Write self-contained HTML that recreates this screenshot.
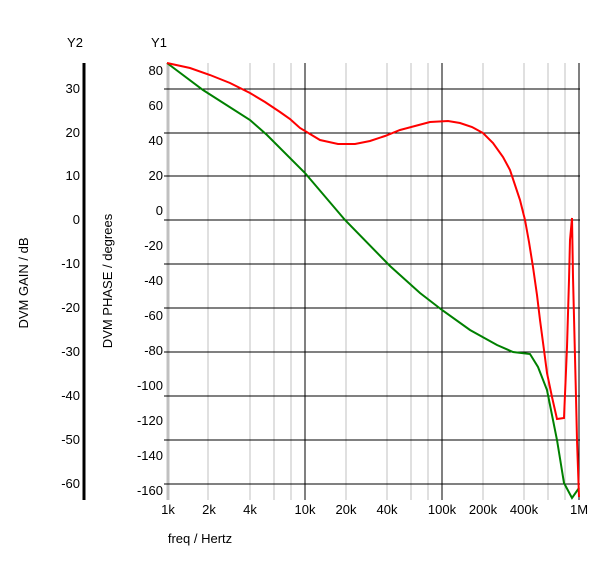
<!DOCTYPE html><html><head><style>body{margin:0;background:#fff}svg{display:block;font-family:"Liberation Sans",Arial,sans-serif;font-size:13px;fill:#000}</style></head><body>
<svg width="600" height="563" viewBox="0 0 600 563">
<g stroke="#c0c0c0" stroke-width="1">
<line x1="168" y1="63" x2="168" y2="500" stroke-width="3"/>
<line x1="208" y1="63" x2="208" y2="500"/><line x1="250" y1="63" x2="250" y2="500"/><line x1="274" y1="63" x2="274" y2="500"/><line x1="291" y1="63" x2="291" y2="500"/>
<line x1="346" y1="63" x2="346" y2="500"/><line x1="387" y1="63" x2="387" y2="500"/><line x1="411" y1="63" x2="411" y2="500"/><line x1="428" y1="63" x2="428" y2="500"/>
<line x1="483" y1="63" x2="483" y2="500"/><line x1="524" y1="63" x2="524" y2="500"/><line x1="548" y1="63" x2="548" y2="500"/><line x1="565" y1="63" x2="565" y2="500"/>
</g>
<g stroke="#000" stroke-width="1">
<line x1="305" y1="63" x2="305" y2="500"/><line x1="442" y1="63" x2="442" y2="500"/><line x1="579" y1="63" x2="579" y2="500"/>
<line x1="164" y1="89" x2="580" y2="89"/><line x1="164" y1="133" x2="580" y2="133"/><line x1="164" y1="176" x2="580" y2="176"/><line x1="164" y1="220" x2="580" y2="220"/><line x1="164" y1="264" x2="580" y2="264"/><line x1="164" y1="308" x2="580" y2="308"/><line x1="164" y1="352" x2="580" y2="352"/><line x1="164" y1="396" x2="580" y2="396"/><line x1="164" y1="440" x2="580" y2="440"/><line x1="164" y1="484" x2="580" y2="484"/>
<line x1="84" y1="63" x2="84" y2="500" stroke-width="3"/>
</g>
<polyline fill="none" stroke="#008000" stroke-width="2" points="167,63 203,90 250,120 267,135 305,173 345,220 390,266 420,293 442,310 470,330 497,345 513,352 530,354 538,367 547,390 557,440 564,483 572,498 579,488"/>
<polyline fill="none" stroke="#ff0000" stroke-width="2" points="167,63 190,68 210,75 230,83 250,93 265,102 280,112 290,119 300,128 310,134 320,140 338,144 355,144 370,141 385,136 400,130 415,126 430,122 448,121 460,123 472,127 483,133 493,143 503,157 510,170 515,185 520,200 525,220 529,242 533,267 537,295 540,320 544,350 547,373 552,397 557,419 564,418 567,347 569,280 570,240 572,218 573,277 576,397 577,440 579,497"/>
<g text-anchor="end">
<text x="80" y="93">30</text><text x="80" y="137">20</text><text x="80" y="180">10</text><text x="80" y="224">0</text><text x="80" y="268">-10</text><text x="80" y="312">-20</text><text x="80" y="356">-30</text><text x="80" y="400">-40</text><text x="80" y="444">-50</text><text x="80" y="488">-60</text>
<text x="163" y="75">80</text><text x="163" y="110">60</text><text x="163" y="145">40</text><text x="163" y="180">20</text><text x="163" y="215">0</text><text x="163" y="250">-20</text><text x="163" y="285">-40</text><text x="163" y="320">-60</text><text x="163" y="355">-80</text><text x="163" y="390">-100</text><text x="163" y="425">-120</text><text x="163" y="460">-140</text><text x="163" y="495">-160</text>
</g>
<g text-anchor="middle">
<text x="75" y="47">Y2</text><text x="159" y="47">Y1</text>
<text x="168" y="514">1k</text><text x="209" y="514">2k</text><text x="250" y="514">4k</text><text x="305" y="514">10k</text><text x="346" y="514">20k</text><text x="387" y="514">40k</text><text x="442" y="514">100k</text><text x="483" y="514">200k</text><text x="524" y="514">400k</text><text x="579" y="514">1M</text>
<text x="200" y="543">freq / Hertz</text>
<text transform="translate(28,283) rotate(-90)">DVM GAIN / dB</text>
<text transform="translate(112,281) rotate(-90)">DVM PHASE / degrees</text>
</g>
</svg></body></html>
